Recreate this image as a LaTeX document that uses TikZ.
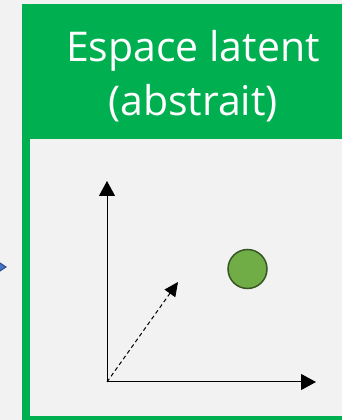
\documentclass[tikz,border=0pt]{standalone}
\usepackage{fontspec}
\setmainfont{Open Sans}
\usetikzlibrary{arrows.meta}
\definecolor{bg}{HTML}{F2F2F2}
\definecolor{grn}{HTML}{00B050}
\definecolor{ptfill}{HTML}{70AD47}
\definecolor{ptdraw}{HTML}{375623}
\definecolor{blu}{HTML}{4472C4}
\definecolor{bludark}{HTML}{2F528F}
\tikzset{
  axis/.style={line width=1pt, -{Triangle[length=15pt,width=16pt]}},
  vec/.style={line width=1pt, dashed, dash pattern=on 4pt off 3pt, -{Triangle[length=14pt,width=13pt]}},
}
\begin{document}
\begin{tikzpicture}[x=1pt,y=1pt]
\useasboundingbox (0,0) rectangle (342,420);
\clip (0,0) rectangle (342,420);
\fill[bg] (0,0) rectangle (342,420);
% body box
\draw[grn, line width=8pt] (26,0) rectangle (366,290);
% header
\fill[grn] (22,281) rectangle (366,416);
\node[text=white, font=\fontsize{41}{54}\selectfont, align=center] (title) at (193,344) {Espace latent\\(abstrait)};
% blue arrow tip at left
\draw[fill=blu, draw=bludark, line width=1pt] (-3,147) -- (6,153) -- (-3,159) -- (-12,153) -- cycle;
% axes
\coordinate (o) at (107,38);
\coordinate (xend) at (316,38);
\coordinate (yend) at (107,239);
\coordinate (vend) at (178,138);
\draw[axis] (o) -- (xend);
\draw[axis] (o) -- (yend);
\draw[vec] (o) -- (vend);
\node[circle, minimum size=39pt, inner sep=0pt, fill=ptfill, draw=ptdraw, line width=1.5pt] (pt) at (247.5,151) {};
\end{tikzpicture}
\end{document}
